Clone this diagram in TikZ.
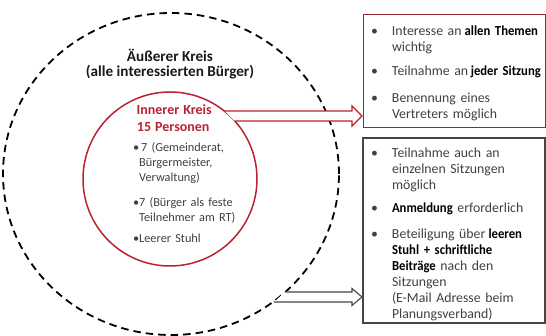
\documentclass[tikz,border=0pt]{standalone}
\usepackage{fontspec}
\setmainfont{Carlito}
\newfontfamily\boxfont{Carlito}[BoldFeatures={FakeStretch=0.92}]
\usetikzlibrary{shapes.geometric,calc}
\definecolor{darkred}{RGB}{186,34,52}
\definecolor{boxred}{RGB}{150,40,55}
\definecolor{textgray}{RGB}{64,64,64}
\definecolor{linegray}{RGB}{70,70,70}
%% bullet lines: box list and circle list
\newcommand{\bpoint}[1]{\noindent\makebox[29pt][l]{\hspace{8pt}\textbullet}\parbox[t]{300pt}{\raggedright #1}\par}
\newcommand{\cpoint}[1]{\noindent\makebox[6pt][l]{\textbullet}\parbox[t]{200pt}{\raggedright #1}\par}
\newcommand{\hl}[1]{\textcolor{black}{\bfseries #1}}

\begin{document}
\begin{tikzpicture}[x=1pt,y=1pt,
  outerring/.style={ellipse, draw=black, line width=1.8pt, dash pattern=on 7.5pt off 5pt,
    minimum width=336pt, minimum height=322pt, inner sep=0pt, outer sep=0pt},
  innerring/.style={circle, draw=darkred, line width=1.5pt, minimum size=174pt,
    inner sep=0pt, outer sep=0pt},
  listbox/.style={anchor=north west, inner sep=0pt, outer sep=0pt, text width=182pt,
    text=textgray, font=\boxfont\fontsize{13.8}{16}\selectfont},
  redarrow/.style={draw=darkred, line width=1.3pt, fill=white},
  grayarrow/.style={draw=linegray, line width=1.1pt, fill=white}]
  \useasboundingbox (0,0) rectangle (546,336);

  %% Circles
  \node[outerring] (outer) at (171,162) {};
  \node[innerring] (inner) at (170,157) {};

  %% Outer circle title
  \node[font=\bfseries\fontsize{15.2}{14.5}\selectfont, text=black!90, align=center]
    (outertitle) at (170,272) {Äußerer Kreis\\(alle interessierten Bürger)};

  %% Inner circle text
  \node[anchor=north west, inner sep=0pt, text width=110pt, text=textgray,
    font=\fontsize{12.3}{15}\selectfont] (innertext) at (133,232) {%
    {\color{darkred}\bfseries\fontsize{14}{17}\selectfont
     \noindent\makebox[82pt]{Innerer Kreis}\par
     \noindent\makebox[80pt]{15 Personen}\par}
    \vspace{5pt}
    \cpoint{\,7 (Gemeinderat,\\Bürgermeister,\\Verwaltung)}\vspace{13pt}
    \cpoint{7 (Bürger als feste\\Teilnehmer am RT)}\vspace{10pt}
    \cpoint{Leerer Stuhl}};

  %% Boxes on the right
  \draw[boxred, line width=1pt] (363,321) rectangle (545,208);
  \draw[linegray, line width=1.1pt] (363,198) rectangle (545,13);

  \node[listbox] (toplist) at (363,310) {%
    \bpoint{Interesse an\kern-1.5pt{} \hl{allen Themen}\\wichtig}\vspace{11pt}
    \bpoint{Teilnahme an\kern-2pt{} \hl{jeder Sitzung}}\vspace{11pt}
    \bpoint{Benennung eines\\Vertreters möglich}};

  \node[listbox] (bottomlist) at (363,188) {%
    \bpoint{Teilnahme auch an\\einzelnen Sitzungen\\möglich}\vspace{10pt}
    \bpoint{\hl{Anmeldung} erforderlich}\vspace{10pt}
    \bpoint{Beteiligung über\kern-1.5pt{} \hl{leeren}\\\hl{Stuhl + schriftliche}\\\hl{Beiträge} nach den\\Sitzungen\\(E-Mail Adresse beim\\Planungsverband)}};

  %% Arrows
  \coordinate (tip1) at (362,220);
  \coordinate (tip2) at (362,39);
  \draw[redarrow] (inner.51 |- 0,225) -- ($(tip1)+(-10,5)$) -- ($(tip1)+(-10,10)$) -- (tip1)
    -- ($(tip1)+(-10,-10)$) -- ($(tip1)+(-10,-5)$) -- (inner.42 |- 0,215);
  \draw[grayarrow] (outer.-46 |- 0,44) -- ($(tip2)+(-10,5)$) -- ($(tip2)+(-10,8.5)$) -- (tip2)
    -- ($(tip2)+(-10,-8.5)$) -- ($(tip2)+(-10,-5)$) -- (outer.-51.4 |- 0,34);

\end{tikzpicture}
\end{document}
